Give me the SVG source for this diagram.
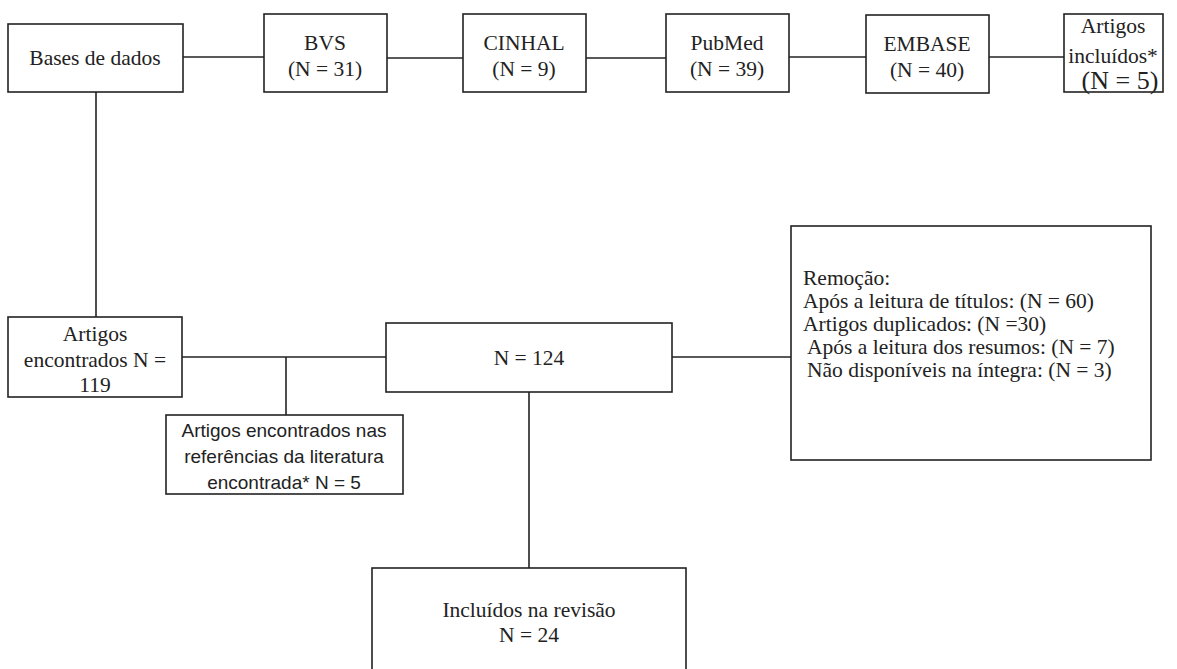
<svg xmlns="http://www.w3.org/2000/svg" width="1177" height="669" viewBox="0 0 1177 669">
<style>
.box{fill:#fff;stroke:#222;stroke-width:1.6}
.t{font-family:'Liberation Serif','Times New Roman','DejaVu Serif',serif;font-size:21.5px;fill:#222;text-anchor:middle}
.s{font-family:'Liberation Sans',Arial,sans-serif;font-size:19px;fill:#222;text-anchor:middle}
.l{font-family:'Liberation Serif','Times New Roman','DejaVu Serif',serif;font-size:21.5px;fill:#222}
.c{stroke:#222;stroke-width:1.6;fill:none}
</style>
<rect width="1177" height="669" fill="#fff"/>
<g id="connectors">
<line class="c" x1="183" y1="57" x2="264" y2="57"/>
<line class="c" x1="387" y1="58" x2="463" y2="58"/>
<line class="c" x1="586" y1="58" x2="666" y2="58"/>
<line class="c" x1="789" y1="57" x2="866" y2="57"/>
<line class="c" x1="989" y1="57" x2="1064" y2="57"/>
<line class="c" x1="96" y1="92" x2="96" y2="317"/>
<line class="c" x1="182" y1="357" x2="386" y2="357"/>
<line class="c" x1="286" y1="357" x2="286" y2="415"/>
<line class="c" x1="672" y1="357" x2="791" y2="357"/>
<line class="c" x1="529" y1="392" x2="529" y2="568"/>
</g>
<g id="bases"><rect class="box" x="8" y="24" width="175" height="68"/><text class="t" x="95" y="65">Bases de dados</text></g>
<g id="bvs"><rect class="box" x="264" y="14" width="123" height="78"/><text class="t" x="325" y="50">BVS</text><text class="t" x="325" y="76">(N = 31)</text></g>
<g id="cinhal"><rect class="box" x="463" y="14" width="123" height="78"/><text class="t" x="524" y="50">CINHAL</text><text class="t" x="524" y="76">(N = 9)</text></g>
<g id="pubmed"><rect class="box" x="666" y="14" width="123" height="78"/><text class="t" x="727" y="50">PubMed</text><text class="t" x="727" y="76">(N = 39)</text></g>
<g id="embase"><rect class="box" x="866" y="15" width="123" height="78"/><text class="t" x="927" y="51">EMBASE</text><text class="t" x="927" y="77">(N = 40)</text></g>
<g id="incluidos-top"><rect class="box" x="1064" y="14" width="99" height="78"/><text class="t" x="1113" y="33">Artigos</text><text class="t" x="1113" y="63">incluídos*</text><text class="t" x="1120" y="89" style="font-size:26px">(N = 5)</text></g>
<g id="encontrados"><rect class="box" x="8" y="317" width="174" height="80"/><text class="t" x="95" y="341">Artigos</text><text class="t" x="95" y="367">encontrados N =</text><text class="t" x="95" y="392">119</text></g>
<g id="referencias"><rect class="box" x="166" y="415" width="237" height="79"/><text class="s" x="284" y="437">Artigos encontrados nas</text><text class="s" x="284" y="463">referências da literatura</text><text class="s" x="284" y="489">encontrada* N = 5</text></g>
<g id="n124"><rect class="box" x="386" y="323" width="286" height="69"/><text class="t" x="529" y="365">N = 124</text></g>
<g id="remocao"><rect class="box" x="791" y="226" width="360" height="234"/>
<text class="l" x="803" y="285">Remoção:</text>
<text class="l" x="803" y="308">Após a leitura de títulos: (N = 60)</text>
<text class="l" x="803" y="331">Artigos duplicados: (N =30)</text>
<text class="l" x="807" y="354">Após a leitura dos resumos: (N = 7)</text>
<text class="l" x="807" y="377">Não disponíveis na íntegra: (N = 3)</text></g>
<g id="revisao"><rect class="box" x="372" y="568" width="314" height="110"/><text class="t" x="529" y="617">Incluídos na revisão</text><text class="t" x="529" y="642">N = 24</text></g>
</svg>
